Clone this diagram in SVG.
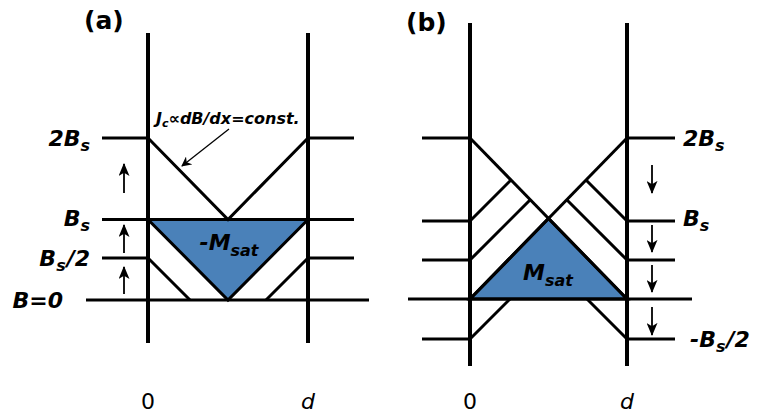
<svg xmlns="http://www.w3.org/2000/svg" width="760" height="414" viewBox="0 0 760 414">
<defs>
<marker id="ah" viewBox="0 0 10 10" refX="9" refY="5" markerWidth="11" markerHeight="10" markerUnits="userSpaceOnUse" orient="auto">
<path d="M0,0 L10,5 L0,10 L3,5 Z" fill="#000"/>
</marker>
<marker id="ah2" viewBox="0 0 12 10" refX="11" refY="5" markerWidth="14" markerHeight="11" markerUnits="userSpaceOnUse" orient="auto">
<path d="M0,0 L12,5 L0,10 L3,5 Z" fill="#000"/>
</marker>
</defs>
<style>
.wall{stroke:#000;stroke-width:4;fill:none}
.ln{stroke:#000;stroke-width:3;fill:none;stroke-linecap:butt}
.tri{fill:#4a81b9;stroke:#000;stroke-width:3;stroke-linejoin:miter}
.arr{stroke:#000;stroke-width:1.8;fill:none;marker-end:url(#ah2)}
.lab{font-family:"DejaVu Sans",Verdana,sans-serif;font-weight:bold;font-style:italic;font-size:22px;fill:#000}
.sub{font-size:16px}
.ttl{font-family:"DejaVu Sans",Verdana,sans-serif;font-weight:bold;font-size:25px;fill:#000}
.ax{font-family:"DejaVu Sans",Verdana,sans-serif;font-size:22px;fill:#000}
.jc{font-family:"DejaVu Sans",Verdana,sans-serif;font-weight:bold;font-style:italic;font-size:16px;fill:#000}
</style>
<rect width="760" height="414" fill="#fff"/>
<g id="panelA">
<g id="a-fill"><polygon class="tri" points="148,219.5 308,219.5 228,300"/></g>
<g id="a-walls">
<line class="wall" x1="148" y1="33" x2="148" y2="343"/>
<line class="wall" x1="308" y1="33" x2="308" y2="343"/>
</g>
<g id="a-levels">
<line class="ln" x1="102" y1="138" x2="148" y2="138"/>
<line class="ln" x1="308" y1="138" x2="354" y2="138"/>
<line class="ln" x1="102" y1="219.5" x2="354" y2="219.5"/>
<line class="ln" x1="102" y1="258" x2="148" y2="258"/>
<line class="ln" x1="308" y1="258" x2="354" y2="258"/>
<line class="ln" x1="86" y1="300" x2="369" y2="300"/>
</g>
<g id="a-profiles">
<polyline class="ln" points="148,138 228,219.5 308,138"/>
<line class="ln" x1="148" y1="258" x2="190" y2="300"/>
<line class="ln" x1="308" y1="258" x2="266" y2="300"/>
</g>
<g id="a-text">
<text class="ttl" x="84" y="29">(a)</text>
<text class="lab" x="90" y="146" text-anchor="end">2B<tspan class="sub" dy="5">s</tspan></text>
<text class="lab" x="90" y="226" text-anchor="end">B<tspan class="sub" dy="5">s</tspan></text>
<text class="lab" x="90" y="266" text-anchor="end">B<tspan class="sub" dy="5">s</tspan><tspan dy="-5" dx="1">/2</tspan></text>
<text class="lab" x="63" y="308" text-anchor="end">B=0</text>
<text class="lab" x="229" y="250" text-anchor="middle" font-size="24">-M<tspan class="sub" font-size="17" dy="6">sat</tspan></text>
<text class="jc" x="156" y="124">J<tspan font-size="11" dy="3">c</tspan><tspan dy="-3">∝dB/dx=const.</tspan></text>
<text class="ax" x="148" y="409" text-anchor="middle">0</text>
<text class="ax" x="308" y="409" text-anchor="middle" font-style="italic">d</text>
</g>
</g>
<g id="panelB">
<g id="b-fill"><polygon class="tri" points="470,299 548.5,218.5 627,299"/></g>
<g id="b-walls">
<line class="wall" x1="470" y1="23" x2="470" y2="366"/>
<line class="wall" x1="627" y1="23" x2="627" y2="366"/>
</g>
<g id="b-levels">
<line class="ln" x1="422" y1="138" x2="470" y2="138"/>
<line class="ln" x1="627" y1="138" x2="675" y2="138"/>
<line class="ln" x1="422" y1="221" x2="470" y2="221"/>
<line class="ln" x1="627" y1="221" x2="675" y2="221"/>
<line class="ln" x1="422" y1="260" x2="470" y2="260"/>
<line class="ln" x1="627" y1="260" x2="675" y2="260"/>
<line class="ln" x1="408" y1="299" x2="692" y2="299"/>
<line class="ln" x1="422" y1="339" x2="470" y2="339"/>
<line class="ln" x1="627" y1="339" x2="675" y2="339"/>
</g>
<g id="b-profiles">
<line class="ln" x1="470" y1="138" x2="627" y2="299"/>
<line class="ln" x1="627" y1="138" x2="470" y2="299"/>
<line class="ln" x1="470" y1="221" x2="511" y2="180"/>
<line class="ln" x1="470" y1="260" x2="530" y2="200"/>
<line class="ln" x1="627" y1="221" x2="586" y2="180"/>
<line class="ln" x1="627" y1="260" x2="567" y2="200"/>
<line class="ln" x1="470" y1="339" x2="510" y2="299"/>
<line class="ln" x1="627" y1="339" x2="587" y2="299"/>
</g>
<g id="b-text">
<text class="ttl" x="406" y="31">(b)</text>
<text class="lab" x="683" y="146">2B<tspan class="sub" dy="5">s</tspan></text>
<text class="lab" x="683" y="226">B<tspan class="sub" dy="5">s</tspan></text>
<text class="lab" x="690" y="347">-B<tspan class="sub" dy="5">s</tspan><tspan dy="-5" dx="1">/2</tspan></text>
<text class="lab" x="548" y="280" text-anchor="middle" font-size="24">M<tspan class="sub" font-size="17" dy="6">sat</tspan></text>
<text class="ax" x="470" y="409" text-anchor="middle">0</text>
<text class="ax" x="627" y="409" text-anchor="middle" font-style="italic">d</text>
</g>
</g>
<g id="connectors">
<line class="arr" x1="124" y1="193" x2="124" y2="164"/>
<line class="arr" x1="124" y1="253" x2="124" y2="225"/>
<line class="arr" x1="124" y1="294" x2="124" y2="267"/>
<line class="arr" x1="652" y1="165" x2="652" y2="193"/>
<line class="arr" x1="652" y1="225" x2="652" y2="252"/>
<line class="arr" x1="652" y1="265" x2="652" y2="292"/>
<line class="arr" x1="652" y1="307" x2="652" y2="335"/>
<line stroke="#000" stroke-width="1.3" x1="229" y1="129" x2="182" y2="166" marker-end="url(#ah)"/>
</g>
</svg>
